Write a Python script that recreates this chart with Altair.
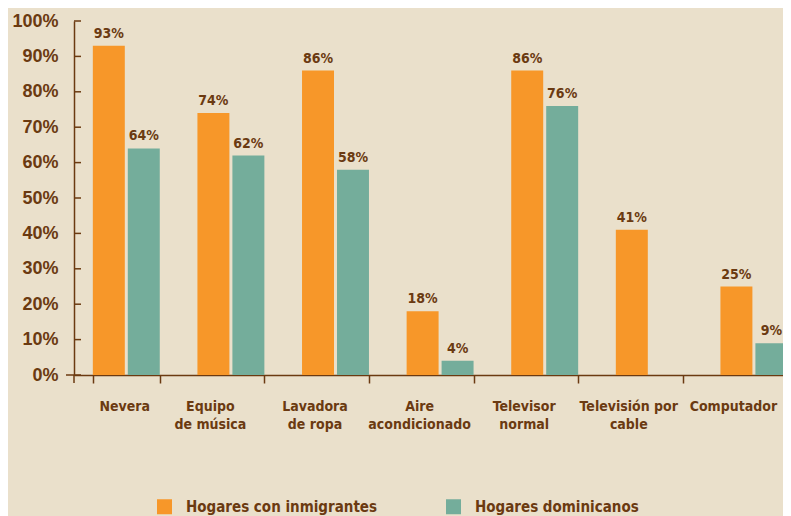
import altair as alt
import pandas as pd

categories = ["Nevera", "Equipo\nde música", "Lavadora\nde ropa", "Aire\nacondicionado",
              "Televisor\nnormal", "Televisión por\ncable", "Computador"]
series = ["Hogares con inmigrantes", "Hogares dominicanos"]
inmigrantes = [93, 74, 86, 18, 86, 41, 25]
dominicanos = [64, 62, 58, 4, 76, None, 9]
y_ticks = [0, 10, 20, 30, 40, 50, 60, 70, 80, 90, 100]

rows = []
for c, a, b in zip(categories, inmigrantes, dominicanos):
    rows.append({"cat": c, "serie": series[0], "v": a})
    if b is not None:
        rows.append({"cat": c, "serie": series[1], "v": b})
df = pd.DataFrame(rows)
ticks_df = pd.DataFrame({"v": y_ticks})
zero_df = pd.DataFrame({"v": [0]})

BROWN = "#6B3A11"
BG = "#EAE0CB"
ORANGE = "#F79729"
TEAL = "#74AD9B"
NARROW = "Liberation Sans Narrow, DejaVu Sans Condensed, sans-serif"

x_enc = alt.X(
    "cat:N", sort=categories, title=None,
    scale=alt.Scale(range=[0, 732.2], paddingInner=0.36, paddingOuter=0.18),
    axis=alt.Axis(
        tickBand="extent", tickSize=8, tickColor=BROWN, tickWidth=1.5,
        domainColor=BROWN, domainWidth=1.5,
        labelAngle=0, labelFont=NARROW, labelFontSize=14, labelFontWeight="bold",
        labelColor=BROWN, labelPadding=16, labelLineHeight=18, labelBaseline="top",
        labelExpr="split(datum.label, '\\n')", labelOverlap=False,
        labelOffset={"condition": {"test": "datum.value === 'Nevera'", "value": -2}, "value": -21},
    ),
)
xo_enc = alt.XOffset("serie:N", sort=series,
                     scale=alt.Scale(paddingInner=0.0857, paddingOuter=0))
y_axis = alt.Axis(
    values=y_ticks, ticks=False, grid=False, domainColor=BROWN, domainWidth=1.5,
    labelFont="Liberation Sans, Arial, sans-serif", labelFontSize=18, labelFontWeight="bold",
    labelColor=BROWN, labelPadding=16, labelExpr="datum.value + '%'",
    labelOverlap=False, labelFlush=False,
)
y_scale = alt.Scale(domain=[0, 100], nice=False)
y_enc = alt.Y("v:Q", title=None, scale=y_scale, axis=y_axis)

base = alt.Chart(df).encode(x=x_enc, xOffset=xo_enc, y=y_enc)

bars = base.mark_bar().encode(
    color=alt.Color(
        "serie:N", sort=series, title=None,
        scale=alt.Scale(domain=series, range=[ORANGE, TEAL]),
        legend=alt.Legend(
            orient="none", legendX=83, legendY=478, direction="horizontal", columns=2,
            symbolType="square", symbolSize=225, symbolStrokeWidth=0, symbolOpacity=1,
            labelFont=NARROW, labelFontSize=15, labelFontWeight="bold", labelColor=BROWN,
            labelOffset=14, columnPadding=68, labelLimit=400,
        ),
    )
)

texts = base.mark_text(
    baseline="bottom", dy=-5, font=NARROW, fontSize=14, fontWeight="bold", color=BROWN
).transform_calculate(lbl="datum.v + '%'").encode(text="lbl:N")

tick_rules = alt.Chart(ticks_df).mark_rule(color=BROWN, strokeWidth=1.5).encode(
    y=y_enc, x=alt.value(0), x2=alt.value(7)
)
zero_left = alt.Chart(zero_df).mark_rule(color=BROWN, strokeWidth=1.5).encode(
    y=y_enc, x=alt.value(-8), x2=alt.value(0)
)
yaxis_ext = alt.Chart(zero_df).mark_rule(color=BROWN, strokeWidth=1.5).encode(
    x=alt.value(0), y=alt.value(354), y2=alt.value(362)
)

chart = alt.layer(bars, texts, tick_rules, zero_left, yaxis_ext).properties(
    width=709, height=354,
    autosize=alt.AutoSizeParams(type="none"),
    padding={"left": 66, "top": 13, "right": 0, "bottom": 145},
    background=BG,
).configure_view(stroke=None)

chart.save("out.html", embed_options={"renderer": "svg", "actions": False})
